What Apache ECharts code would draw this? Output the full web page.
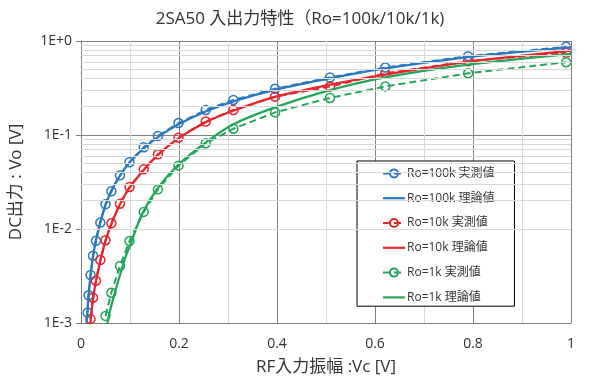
<!DOCTYPE html>
<html>
<head>
<meta charset="utf-8">
<script src="https://cdn.jsdelivr.net/npm/echarts@6/dist/echarts.min.js"></script>
<style>html,body{margin:0;padding:0;background:#fff;}#chart{width:600px;height:390px;}</style>
</head>
<body>
<div id="chart"></div>
<script>
// Measured input amplitude Vc [V]
const vcMeasured = [0.0135, 0.0155, 0.0195, 0.0245, 0.0305, 0.0395, 0.050, 0.062, 0.0795, 0.099, 0.128, 0.157, 0.199, 0.2545, 0.311, 0.396, 0.508, 0.621, 0.79, 0.99];
// Measured DC output Vo [V]
const vo100kMeasured = [0.00129, 0.00197, 0.00324, 0.0052, 0.0075, 0.0117, 0.0183, 0.0252, 0.0372, 0.0513, 0.074, 0.0976, 0.134, 0.1845, 0.236, 0.31, 0.409, 0.522, 0.69, 0.866];
const vo10kMeasured = [null, null, 0.0011, 0.00186, 0.00282, 0.00468, 0.0076, 0.0115, 0.0186, 0.028, 0.0431, 0.0623, 0.0937, 0.139, 0.1845, 0.256, 0.327, 0.453, 0.61, 0.748];
const vo1kMeasured = [null, null, null, null, null, null, 0.00119, 0.0021, 0.00404, 0.00745, 0.0152, 0.0264, 0.0472, 0.0815, 0.1167, 0.174, 0.248, 0.329, 0.453, 0.595];
// Theoretical curves
const vc100kTheory = [0.0115, 0.0135, 0.0155, 0.0195, 0.0245, 0.0305, 0.0395, 0.05, 0.062, 0.0795, 0.099, 0.128, 0.157, 0.199, 0.2545, 0.311, 0.396, 0.508, 0.621, 0.79, 1.0];
const vo100kTheory = [0.001, 0.0014, 0.002, 0.0032, 0.0051, 0.0076, 0.0118, 0.018, 0.0255, 0.037, 0.051, 0.072, 0.095, 0.13, 0.178, 0.228, 0.302, 0.40, 0.51, 0.675, 0.857];
const vc10kTheory = [0.019, 0.0245, 0.0305, 0.0395, 0.05, 0.062, 0.0795, 0.099, 0.128, 0.157, 0.199, 0.2545, 0.311, 0.396, 0.508, 0.621, 0.79, 1.0];
const vo10kTheory = [0.001, 0.0018, 0.0028, 0.0046, 0.0075, 0.0113, 0.0183, 0.0275, 0.0425, 0.0615, 0.092, 0.137, 0.181, 0.254, 0.343, 0.44, 0.6, 0.788];
const vc1kTheory = [0.054, 0.06, 0.069, 0.08, 0.09, 0.102, 0.124, 0.156, 0.2, 0.257, 0.311, 0.4, 0.508, 0.621, 0.79, 1.0];
const vo1kTheory = [0.001, 0.0014, 0.0021, 0.0033, 0.0049, 0.0071, 0.0142, 0.027, 0.049, 0.085, 0.13, 0.2, 0.3, 0.41, 0.56, 0.73];
// Axis ticks
const xTicks = [0, 0.2, 0.4, 0.6, 0.8, 1];
const yMinorGrid = [0.002,0.003,0.004,0.005,0.006,0.007,0.008,0.009,0.02,0.03,0.04,0.05,0.06,0.07,0.08,0.09,0.2,0.3,0.4,0.5,0.6,0.7,0.8,0.9];
const seriesNames = ['Ro=100k 実測値','Ro=100k 理論値','Ro=10k 実測値','Ro=10k 理論値','Ro=1k 実測値','Ro=1k 理論値'];

const FONT = '"Open Sans", "Noto Sans CJK JP", sans-serif';
const C_BLUE = '#2B78BE', C_RED = '#E5262C', C_GREEN = '#23A659';
const LINE_ICON = 'path://M0,0 L22,0 L22,2.2 L0,2.2 Z';

function pairs(xs, ys) { return xs.map((x, i) => [x, ys[i]]).filter(p => p[1] != null); }
function measured(name, xs, ys, c) {
  return { name, type: 'line', data: pairs(xs, ys), z: 3,
    symbol: 'circle', symbolSize: 9, showSymbol: true,
    itemStyle: { color: '#ffffff00', borderColor: c, borderWidth: 1.5 },
    lineStyle: { color: c, width: 2, type: [7, 4] }, color: c };
}
function theory(name, xs, ys, c) {
  return { name, type: 'line', data: pairs(xs, ys), z: 4, smooth: 0.3,
    symbol: 'none', showSymbol: false,
    itemStyle: { color: c }, lineStyle: { color: c, width: 2.3 }, color: c };
}

const chart = echarts.init(document.getElementById('chart'), null, { renderer: 'canvas' });
chart.setOption({
  animation: false,
  backgroundColor: '#fff',
  textStyle: { fontFamily: FONT },
  title: { text: '2SA50 入出力特性（Ro=100k/10k/1k)', left: 'center', top: 6,
    textStyle: { fontFamily: FONT, fontSize: 17, fontWeight: 'normal', color: '#333' } },
  grid: { left: 76, right: 29, top: 41, bottom: 67 },
  legend: {
    data: seriesNames.map((n, i) => i % 2 === 1 ? { name: n, icon: LINE_ICON } : { name: n }),
    orient: 'vertical', left: 357, top: 161,
    padding: [6.4, 20, 2.8, 25], itemGap: 12.8, itemWidth: 22, itemHeight: 10,
    backgroundColor: '#fff', borderColor: '#000', borderWidth: 1,
    textStyle: { fontFamily: FONT, fontSize: 12, color: '#333', padding: [0, 0, 0, -3] }
  },
  xAxis: {
    type: 'value', min: 0, max: 1, interval: 0.2,
    name: 'RF入力振幅 :Vc [V]', nameLocation: 'middle', nameGap: 36,
    nameTextStyle: { fontFamily: FONT, fontSize: 17, color: '#333' },
    axisLine: { lineStyle: { color: '#7a7a7a', width: 1 } },
    axisTick: { show: false },
    axisLabel: { margin: 14, fontSize: 14, color: '#333', fontFamily: FONT,
      formatter: v => String(+v.toFixed(1)) },
    splitLine: { show: true, lineStyle: { color: '#7f7f7f', width: 1 } },
    minorTick: { show: false, splitNumber: 2 },
    minorSplitLine: { show: true, lineStyle: { color: '#d9d9d9', width: 1 } }
  },
  yAxis: {
    type: 'log', logBase: 10, min: 0.001, max: 1,
    name: 'DC出力 : Vo [V]', nameLocation: 'middle', nameGap: 56,
    nameTextStyle: { fontFamily: FONT, fontSize: 17, color: '#333' },
    axisLine: { show: true, lineStyle: { color: '#7a7a7a', width: 1 } },
    axisTick: { show: true, length: 5, lineStyle: { color: '#7a7a7a' } },
    axisLabel: { margin: 9, fontSize: 14, color: '#333', fontFamily: FONT,
      formatter: v => { const e = Math.round(Math.log10(v)); return '1E' + (e >= 0 ? '+' : '') + e; } },
    splitLine: { show: true, lineStyle: { color: '#7f7f7f', width: 1 } }
  },
  series: [
    { name: 'minorGrid', type: 'line', data: [], z: 1, silent: true,
      markLine: { silent: true, symbol: ['none', 'none'], animation: false,
        label: { show: false }, lineStyle: { color: '#d9d9d9', width: 1, type: 'solid' },
        emphasis: { disabled: true },
        data: yMinorGrid.map(v => ({ yAxis: v })) } },
    measured(seriesNames[0], vcMeasured, vo100kMeasured, C_BLUE),
    theory(seriesNames[1], vc100kTheory, vo100kTheory, C_BLUE),
    measured(seriesNames[2], vcMeasured, vo10kMeasured, C_RED),
    theory(seriesNames[3], vc10kTheory, vo10kTheory, C_RED),
    measured(seriesNames[4], vcMeasured, vo1kMeasured, C_GREEN),
    theory(seriesNames[5], vc1kTheory, vo1kTheory, C_GREEN)
  ]
});
</script>
</body>
</html>
